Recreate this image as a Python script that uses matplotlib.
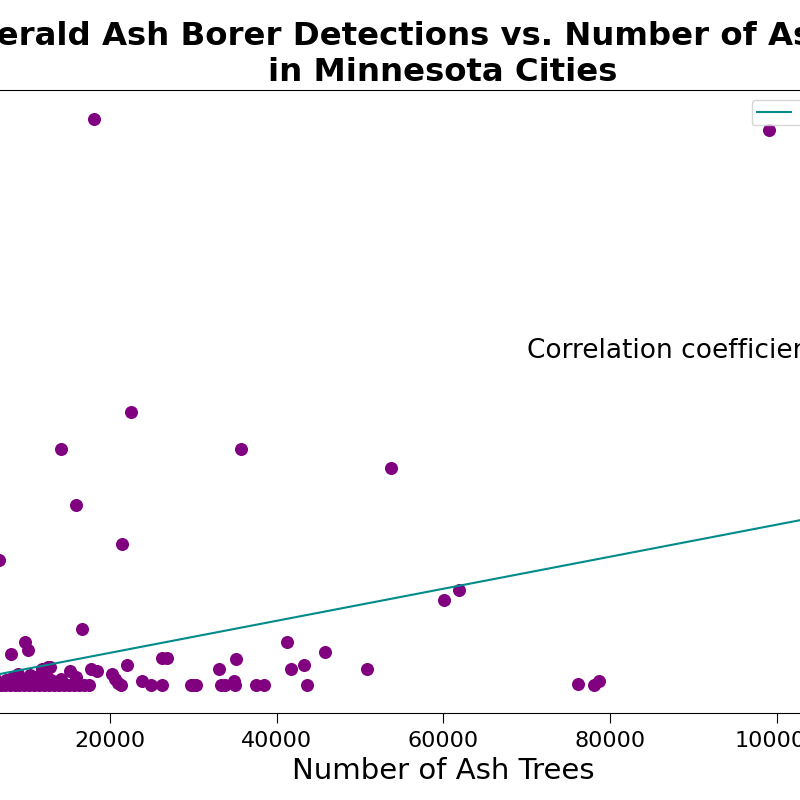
import numpy as np
import matplotlib
matplotlib.use("Agg")
import matplotlib.pyplot as plt

# ash trees per city and EAB detections
ash_trees = [
    18100, 99000, 22590, 14130, 35790, 15930, 21420, 6700, 16690,
    9800, 10190, 8180, 12600, 15280, 17810, 18500, 22020, 26230, 26830,
    20220, 20600, 21000, 21400, 23910, 24960, 26320, 29770, 29930, 30330,
    33060, 35190, 33380, 33780, 34860, 35000, 37550, 38470, 41280, 41690,
    43290, 43680, 45810, 50780, 53720, 60010, 61820, 76170, 78060, 78700,
    119600,
    # dense group of small cities
    300, 900, 1500, 2100, 2800, 3400, 4100, 4700, 5300, 5900, 6500,
    7000, 7500, 8000, 8600, 9100, 9700, 10300, 10900, 11500, 12100,
    12700, 13300, 13900, 14500, 15100, 15700, 16300, 16900, 17500,
    2500, 4500, 6200, 7600, 8400, 9400, 11200, 12400, 13000, 14200, 16000,
    11900, 12900, 9000, 10400,
]
eab_detections = [
    35.3, 34.6, 17.0, 14.7, 14.7, 11.2, 8.8, 7.8, 3.5,
    2.7, 2.2, 1.9, 1.1, 0.84, 1.0, 0.84, 1.26, 1.68, 1.68,
    0.7, 0.4, 0.1, 0.0, 0.22, 0.0, 0.0, 0.0, 0.0, 0.0,
    1.0, 1.64, 0.0, 0.0, 0.22, 0.0, 0.0, 0.0, 2.68, 1.0,
    1.26, 0.0, 2.05, 1.0, 13.5, 5.3, 5.9, 0.03, 0.0, 0.22,
    12.0,
    0.0, 0.0, 0.0, 0.0, 0.0, 0.0, 0.0, 0.0, 0.0, 0.0, 0.0,
    0.0, 0.0, 0.0, 0.0, 0.0, 0.0, 0.0, 0.0, 0.0, 0.0,
    0.0, 0.0, 0.0, 0.0, 0.0, 0.0, 0.0, 0.0, 0.0,
    0.3, 0.5, 0.4, 0.3, 0.5, 0.4, 0.5, 0.6, 0.3, 0.4, 0.5,
    1.0, 1.1, 0.7, 0.6,
]

# regression line as it appears on the chart
fit_slope = 1.0e-4
fit_intercept = 0.0

x = np.array(ash_trees)
y = np.array(eab_detections)
r = np.corrcoef(x, y)[0, 1]

fig = plt.figure(figsize=(8, 8), dpi=100)
ax = fig.add_axes([-0.1306, 0.1084, 1.3688, 0.7785])

ax.scatter(x, y, color="purple", s=70)
xs = np.array([x.min(), x.max()])
ax.plot(xs, fit_slope * xs + fit_intercept, color="darkcyan", lw=1.5,
        label="Least squares regression")

ax.text(70000, 20.4, f"Correlation coefficient: {r:.2f}", fontsize=19)

ax.set_title("Emerald Ash Borer Detections vs. Number of Ash Trees\nin Minnesota Cities",
             fontsize=23.3, fontweight="bold", pad=7)
ax.set_xlabel("Number of Ash Trees", fontsize=21)
ax.set_ylabel("Number of EAB Detections", fontsize=20)
ax.tick_params(labelsize=16, length=7, pad=6)
ax.legend(loc="upper right", handlelength=2.45, borderaxespad=0.7)

fig.savefig("out.png", dpi=100)
